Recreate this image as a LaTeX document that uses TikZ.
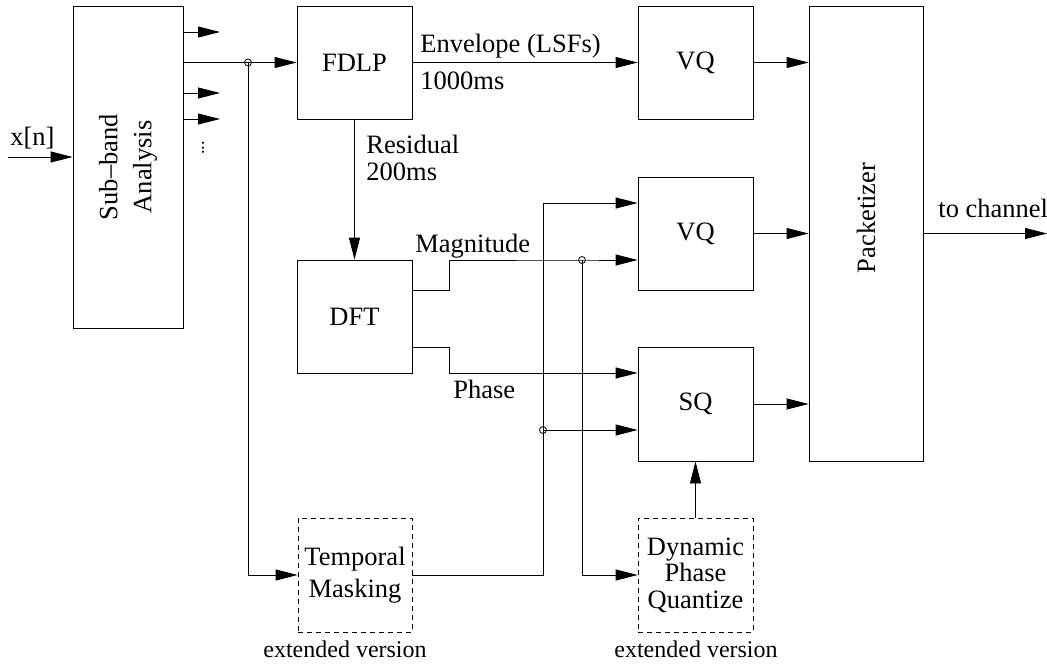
\documentclass[tikz,border=0pt]{standalone}
\usepackage{fontspec}
\setmainfont{Liberation Serif}
\usetikzlibrary{arrows.meta, positioning, calc}

\begin{document}
\begin{tikzpicture}[
    x=1pt, y=-1pt, line width=0.8pt,
    font=\fontsize{26.5}{26.5}\selectfont,
    block/.style={rectangle, draw, inner sep=0pt, align=center,
                  minimum width=115pt, minimum height=113pt},
    extblock/.style={block, minimum height=114pt, dash pattern=on 5pt off 4pt},
    arr/.style={-{Triangle[length=22pt, width=11pt]}},
    dot/.style={circle, draw, inner sep=0pt, minimum size=7pt},
    lbl/.style={inner sep=0pt, anchor=base west},
    note/.style={inner sep=0pt, anchor=base, font=\fontsize{24}{24}\selectfont}
]
\useasboundingbox (0,0) rectangle (1047,664);

% blocks
\node[block, minimum width=110pt, minimum height=322pt] (sub) at (128,167) {};
\node[rotate=90, align=center, font=\fontsize{26.5}{34}\selectfont] (subtxt) at (sub.center) {Sub–band\\Analysis};
\node[block] (fdlp) at (354.5,62.5)  {FDLP};
\node[block] (vq1)  at (695.5,62.5)  {VQ};
\node[block] (dft)  at (354.5,316.5) {DFT};
\node[block] (vq2)  at (695.5,233.5) {VQ};
\node[block, minimum height=114pt] (sq) at (695.5,404) {SQ};
\node[block, minimum width=114pt, minimum height=455pt] (pack) at (866,233.5) {};
\node[rotate=90] (packtxt) at (866,218) {Packetizer};
\node[extblock, minimum width=114pt] (tm) at (355,575) {Temporal\\[5pt]Masking};
\node[extblock] (dpq) at (695.5,575) {Dynamic\\Phase\\Quantize};

% junctions
\node[dot] (j1) at (248,62.5) {};
\node[dot] (j2) at (582,260) {};
\node[dot] (j3) at (543,430) {};

% free ends
\coordinate (xin) at (8,157);
\coordinate (o1) at (220,32);
\coordinate (o2) at (220,93);
\coordinate (o3) at (220,119);
\coordinate (m1) at (449,290);
\coordinate (p1) at (449,373);
\coordinate (t1) at (543,203);
\coordinate (out) at (1047,233.5);

% input and sub-band outputs
\draw[arr] (xin) -- (xin -| sub.west);
\node[lbl] (lx) at (10,145) {x[n]};
\draw[arr] (o1 -| sub.east) -- (o1);
\draw[arr] (o2 -| sub.east) -- (o2);
\draw[arr] (o3 -| sub.east) -- (o3);
\node[rotate=90, inner sep=0pt, font=\fontsize{18}{18}\selectfont] (dots) at (203,148) {...};
\draw[arr] (sub.east |- j1) -- (fdlp.west);
\draw[arr] (j1.center) |- (tm.west);

% FDLP
\draw[arr] (fdlp) -- (vq1);
\node[lbl] (lenv) at (420,52) {Envelope (LSFs)};
\node[lbl] (l1000) at (420,89) {1000ms};
\draw[arr] (fdlp) -- (dft);
\node[inner sep=0pt, anchor=north west, align=left] (lres) at (366,135) {Residual\\200ms};

% DFT
\draw[arr] (dft.east |- m1) -- (m1) |- (j2.center) -- (vq2.west |- j2);
\node[lbl] (lmag) at (415,252) {Magnitude};
\draw[arr] (dft.east |- 0,347) -| (p1) -- (sq.west |- p1);
\node[lbl] (lph) at (453,398) {Phase};

% temporal masking / dynamic phase
\draw[arr] (tm.east) -| (t1) -- (vq2.west |- t1);
\draw[arr] (j3.center) -- (sq.west |- j3);
\draw[arr] (j2.center) |- (dpq.west);
\draw[arr] (dpq) -- (sq);
\node[note] (lext1) at (345,657) {extended version};
\node[note] (lext2) at (696,657) {extended version};

% packetizer
\draw[arr] (vq1) -- (vq1 -| pack.west);
\draw[arr] (vq2) -- (vq2 -| pack.west);
\draw[arr] (sq) -- (sq -| pack.west);
\draw[arr] (pack.east |- out) -- (out);
\node[lbl] (lch) at (938,217) {to channel};
\end{tikzpicture}
\end{document}
